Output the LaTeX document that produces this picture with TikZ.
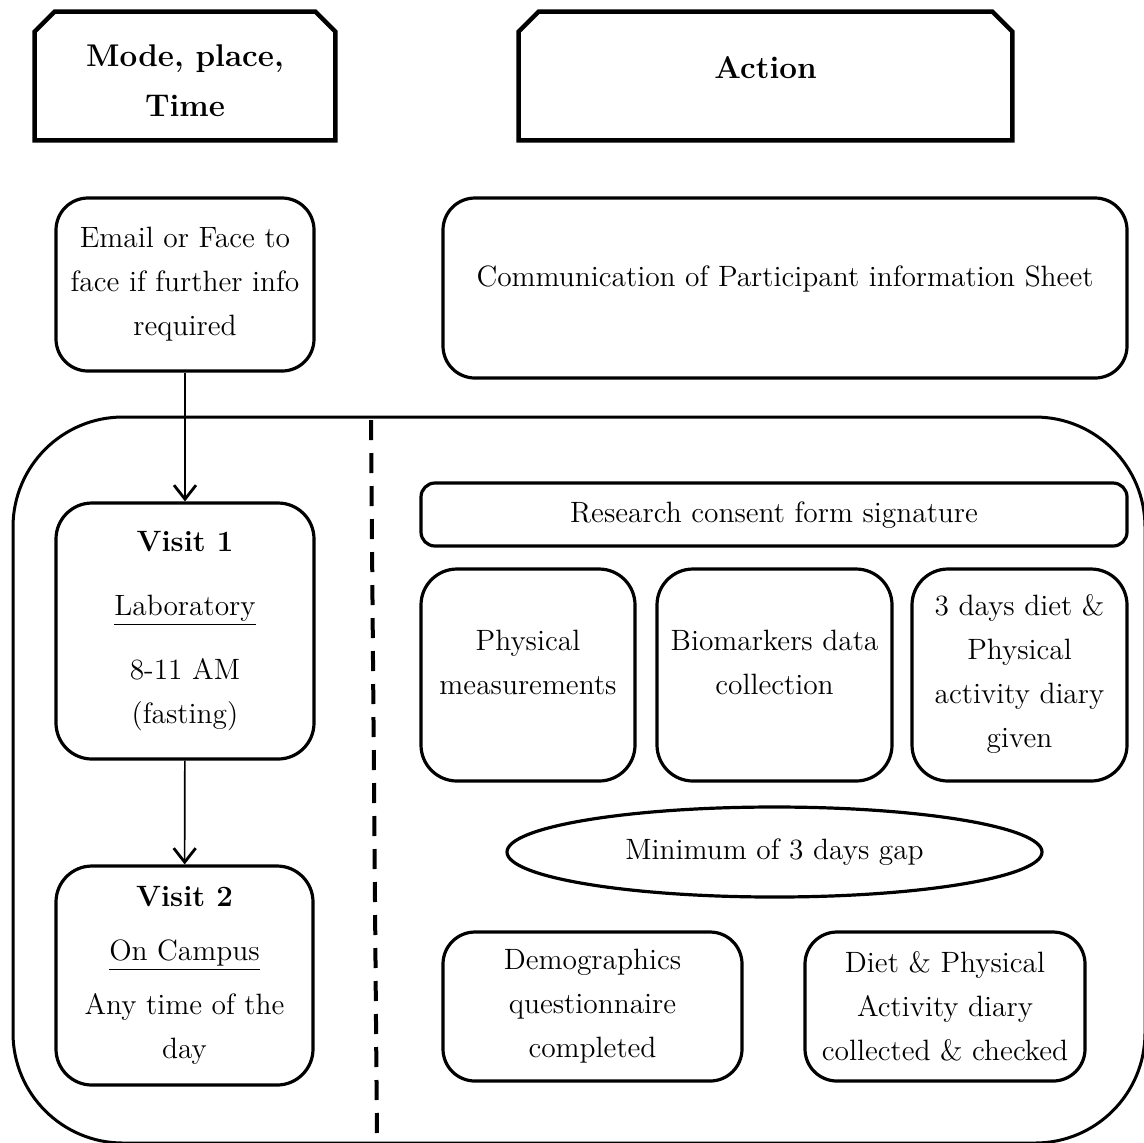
\documentclass[tikz,border=0pt]{standalone}
\usepackage{tikz}
\usetikzlibrary{arrows.meta,calc,shapes.geometric,positioning}

\begin{document}
\begin{tikzpicture}[x=0.5pt,y=-0.5pt,
  box/.style={draw,line width=1.6pt,rounded corners=16pt,align=center,inner sep=0pt,
    font=\fontsize{14.7}{22}\selectfont},
  hdr/.style={inner sep=0pt,align=center,font=\fontsize{15.7}{25}\selectfont\bfseries},
  hdrline/.style={line width=2.2pt,line join=miter},
  flow/.style={line width=0.8pt,-{Straight Barb[length=7pt,width=11pt,line width=1.4pt]}}]
\useasboundingbox (0,0) rectangle (1144,1142);

% headers
\node[hdr,minimum width=150pt,minimum height=64pt] (hmode) at (185,81) {Mode, place,\\Time};
\node[hdr,minimum width=246.5pt,minimum height=64pt] (haction) at (765.5,76) {Action\\[-17pt]};
\draw[hdrline] ([yshift=2.5pt]hmode.south west) -- ([yshift=-7.5pt]hmode.north west) -- ([xshift=10pt,yshift=2.5pt]hmode.north west)
  -- ([xshift=-10pt,yshift=2.5pt]hmode.north east) -- ([yshift=-7.5pt]hmode.north east) -- ([yshift=2.5pt]hmode.south east) -- cycle;
\draw[hdrline] (haction.south west) -- ([yshift=-10pt]haction.north west) -- ([xshift=10pt]haction.north west)
  -- ([xshift=-10pt]haction.north east) -- ([yshift=-10pt]haction.north east) -- (haction.south east) -- cycle;

% first step
\node[box,minimum width=129pt,minimum height=86.5pt] (email) at (185,284.5) {Email or Face to\\face if further info\\required};
\node[box,minimum width=342pt,minimum height=90pt] (comm) at (785,288) {Communication of Participant information Sheet\\[-10.5pt]};

% big frame and divider
\draw[line width=1.5pt,rounded corners=55pt] (13,417) rectangle (1145,1143);
\coordinate (divtop) at (371,420);
\coordinate (divbot) at (377,1142);
\draw[line width=2pt,dash pattern=on 10pt off 6.5pt] (divtop) -- (divbot);

% visits
\node[box,rounded corners=18pt,minimum width=129pt,minimum height=128pt] (visit1) at (185,631)
  {\textbf{Visit 1}\\[10pt]\underline{Laboratory}\\[10pt]8-11 AM\\(fasting)};
\node[box,rounded corners=18pt,minimum width=128.5pt,minimum height=109.5pt] (visit2) at (184.5,975.5)
  {\textbf{Visit 2}\\[5pt]\underline{On Campus}\\[5pt]Any time of the\\day};
\draw[flow] (email) -- (visit1);
\draw[flow] (visit1) -- (visit2);

% actions
\node[box,rounded corners=7pt,minimum width=353pt,minimum height=31.5pt] (consent) at (774,514.5) {Research consent form signature\\[-20pt]};
\node[box,rounded corners=18pt,minimum width=107pt,minimum height=106pt] (phys) at (528,675) {Physical\\measurements\\[-9pt]};
\node[box,rounded corners=18pt,minimum width=117.5pt,minimum height=106pt] (bio) at (774.5,675) {Biomarkers data\\collection\\[-9pt]};
\node[box,rounded corners=18pt,minimum width=107.5pt,minimum height=106pt] (diary) at (1019.5,675) {3 days diet \&\\Physical\\activity diary\\given\\[-18pt]};
\node[box,ellipse,minimum width=267.5pt,minimum height=45pt] (gap) at (774.5,852) {Minimum of 3 days gap};
\node[box,minimum width=149.5pt,minimum height=74.5pt] (demo) at (592.5,1006.5) {Demographics\\questionnaire\\completed};
\node[box,minimum width=140pt,minimum height=74.5pt] (collect) at (945,1006.5) {Diet \& Physical\\Activity diary\\collected \& checked};
\end{tikzpicture}
\end{document}
